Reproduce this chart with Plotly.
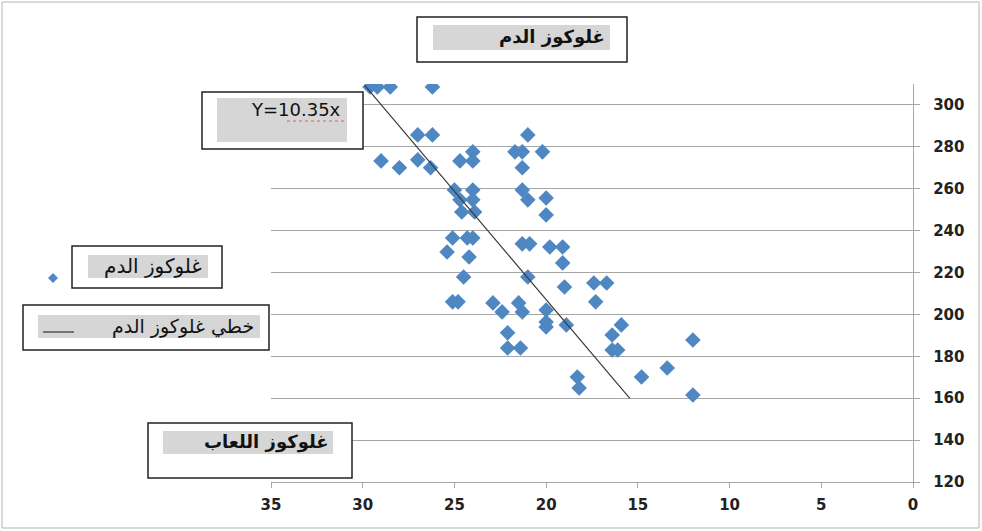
import plotly.graph_objects as go

# ---- data ----
saliva_glucose = [29.6, 29.2, 28.5, 26.2, 27.0, 26.2, 29.0, 28.0, 27.0, 26.3,
                  24.7, 24.0, 24.0, 21.0, 21.7, 21.3, 20.2, 21.3,
                  25.0, 24.0, 24.7, 24.0, 24.6, 23.9, 21.3, 21.0, 20.0, 20.0,
                  25.1, 24.3, 24.0, 25.4, 24.2, 21.3, 20.9, 19.8, 19.1, 19.1,
                  24.5, 21.0, 19.0, 17.4, 16.7, 17.3, 25.1, 24.8, 22.9, 22.4,
                  21.5, 21.3, 20.0, 22.1, 22.1, 21.4, 20.0, 20.0, 18.9, 15.9,
                  16.4, 16.4, 16.1, 12.0, 14.8, 13.4, 18.3, 18.2, 12.0]
blood_glucose = [308.6, 308.6, 308.6, 308.6, 285.7, 285.7, 273.3, 270.0, 273.8, 270.0,
                 273.3, 277.6, 273.3, 285.7, 277.6, 277.6, 277.6, 270.0,
                 259.4, 259.4, 254.7, 254.7, 248.9, 248.9, 259.4, 254.7, 255.6, 247.5,
                 236.5, 236.5, 236.5, 229.8, 227.4, 233.7, 233.7, 232.2, 232.2, 224.6,
                 217.9, 217.9, 213.1, 215.0, 215.0, 206.0, 206.0, 206.0, 205.5, 201.2,
                 205.5, 201.2, 202.1, 191.2, 184.0, 184.0, 194.0, 196.4, 195.0, 195.0,
                 190.2, 183.0, 183.0, 187.8, 170.1, 174.4, 170.1, 164.9, 161.5]
trend_x = [29.9, 15.45]
trend_y = [309.5, 160.0]
x_ticks = [35, 30, 25, 20, 15, 10, 5, 0]
y_ticks = [120, 140, 160, 180, 200, 220, 240, 260, 280, 300]
title_text = "غلوكوز الدم"
x_title_text = "غلوكوز اللعاب"
equation_text = "Y=10.35x"
legend_points = "غلوكوز الدم"
legend_line = "خطي غلوكوز الدم"

# ---- layout helpers (pixel -> paper) ----
W, H = 982, 531
L, R, T, B = 271, 913, 84, 482
def px(x):
    return (x - L) / (R - L)
def py(y):
    return (B - y) / (B - T)

BLUE = "#4f87c2"
GRID = "#a6a6a6"
ARABIC = "DejaVu Sans"
TICKFONT = dict(family="DejaVu Sans", size=15, color="#222222", weight="bold")

fig = go.Figure()
fig.add_trace(go.Scatter(x=saliva_glucose, y=blood_glucose, mode="markers",
                         marker=dict(symbol="diamond", size=12, color=BLUE,
                                     line=dict(width=0)),
                         showlegend=False, hoverinfo="x+y"))
fig.add_trace(go.Scatter(x=trend_x, y=trend_y, mode="lines",
                         line=dict(color="#3a3a3a", width=1.2),
                         showlegend=False, cliponaxis=False))

shapes = []
annotations = []

def rect(x0, y0, x1, y1, fill, line_color, lw):
    shapes.append(dict(type="rect", xref="paper", yref="paper",
                       x0=px(x0), x1=px(x1), y0=py(y1), y1=py(y0),
                       fillcolor=fill, line=dict(color=line_color, width=lw),
                       layer="above"))

def text(x, y, s, size, bold=False, family=ARABIC):
    annotations.append(dict(xref="paper", yref="paper", x=px(x), y=py(y),
                            xanchor="right", yanchor="middle", showarrow=False,
                            text=("<b>%s</b>" % s) if bold else s,
                            font=dict(family=family, size=size, color="#111111")))

# outer frame
rect(2, 2, 979, 528, "rgba(0,0,0,0)", "#b5b5b5", 1)

# title box
rect(417, 17, 627, 62, "white", "#222222", 1.5)
rect(433, 25, 610, 50, "#d6d6d6", "#d6d6d6", 0)
text(607, 37, title_text, 18, bold=True)

# equation box
rect(202, 92, 363, 149, "white", "#222222", 1.5)
rect(217, 98, 347, 142, "#d6d6d6", "#d6d6d6", 0)
text(343, 109, equation_text, 18, family="DejaVu Sans")
shapes.append(dict(type="line", xref="paper", yref="paper",
                   x0=px(287), x1=px(346), y0=py(121), y1=py(121),
                   line=dict(color="#e06060", width=1.2, dash="dot"), layer="above"))

# legend entry 1
rect(72, 246, 222, 288, "white", "#222222", 1.5)
rect(88, 255, 208, 278, "#d6d6d6", "#d6d6d6", 0)
text(204, 266, legend_points, 20)
cx, cy, d = 53, 278, 5
shapes.append(dict(type="path", xref="paper", yref="paper",
                   path="M %f %f L %f %f L %f %f L %f %f Z" % (
                       px(cx - d), py(cy), px(cx), py(cy - d),
                       px(cx + d), py(cy), px(cx), py(cy + d)),
                   fillcolor=BLUE, line=dict(width=0), layer="above"))

# legend entry 2
rect(23, 305, 269, 350, "white", "#222222", 1.5)
rect(38, 315, 260, 338, "#d6d6d6", "#d6d6d6", 0)
text(256, 326, legend_line, 19)
shapes.append(dict(type="line", xref="paper", yref="paper",
                   x0=px(43), x1=px(74), y0=py(332), y1=py(332),
                   line=dict(color="#333333", width=1.2), layer="above"))

# x-axis title box
rect(148, 423, 352, 478, "white", "#222222", 1.5)
rect(163, 431, 333, 454, "#d6d6d6", "#d6d6d6", 0)
text(331, 442, x_title_text, 18, bold=True)

fig.update_layout(
    width=W, height=H,
    margin=dict(l=L, r=W - R, t=T, b=H - B, pad=0),
    paper_bgcolor="white", plot_bgcolor="white",
    shapes=shapes, annotations=annotations,
    xaxis=dict(range=[35, 0], tickvals=x_ticks, showgrid=False, zeroline=False,
               showline=True, linecolor=GRID, linewidth=1.3,
               ticks="outside", ticklen=5, tickcolor=GRID,
               ticklabelstandoff=4, tickfont=TICKFONT),
    yaxis=dict(range=[120, 310], tickvals=y_ticks, side="right",
               showgrid=True, gridcolor=GRID, gridwidth=1.3, zeroline=False,
               showline=True, linecolor=GRID, linewidth=1.3,
               ticks="outside", ticklen=6, tickcolor=GRID,
               ticklabelstandoff=10, tickfont=TICKFONT),
)

fig.write_html("out.html", config={"displayModeBar": False},
               post_script="document.body.style.margin='0';document.body.style.padding='0';")
